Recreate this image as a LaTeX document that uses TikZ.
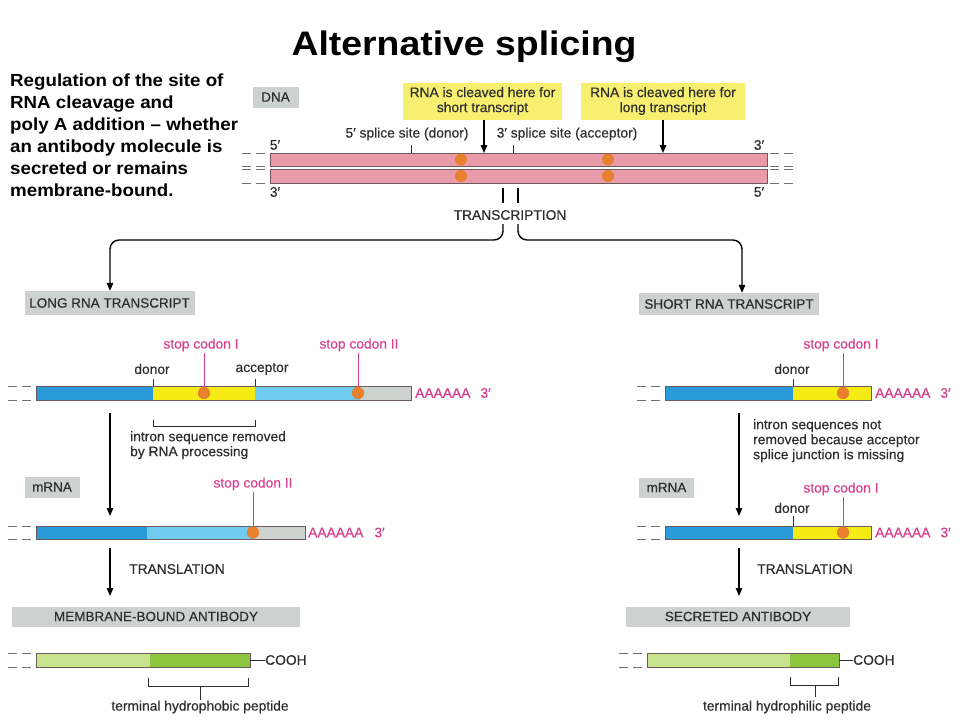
\documentclass[tikz,border=0pt]{standalone}
\usepackage{fontspec}
\setmainfont{Liberation Sans}
\newfontfamily\parafont[FakeStretch=1.07]{Liberation Sans}
\newfontfamily\titlefont[FakeStretch=1.1]{Liberation Sans}
\newfontfamily\lblfont[FakeBold=0.4]{Liberation Sans}
\usetikzlibrary{arrows.meta}
\definecolor{txt}{HTML}{2E2E2E}
\definecolor{pinktxt}{HTML}{D6418F}
\definecolor{strand}{HTML}{E99BAA}
\definecolor{strandln}{HTML}{6B5A5E}
\definecolor{dotc}{HTML}{E8812E}
\definecolor{ybox}{HTML}{F7EF70}
\definecolor{gbox}{HTML}{CDD2D1}
\definecolor{blueA}{HTML}{2B9AD8}
\definecolor{blueB}{HTML}{70CBEE}
\definecolor{yelbar}{HTML}{F6EB14}
\definecolor{graybar}{HTML}{CCD3CF}
\definecolor{greenA}{HTML}{C9E38F}
\definecolor{greenB}{HTML}{8CC63F}
\definecolor{dashc}{HTML}{707070}
\begin{document}
\begin{tikzpicture}[x=1pt,y=-1pt,
  lbl/.style={font=\lblfont\fontsize{13.8}{15}\selectfont, text=txt, inner sep=0pt},
  plbl/.style={lbl, text=pinktxt},
  gboxs/.style={fill=gbox, font=\lblfont\fontsize{13.5}{15}\selectfont, text=txt, inner sep=0pt},
  ybx/.style={fill=ybox, font=\lblfont\fontsize{13.8}{15}\selectfont, text=txt, inner sep=0pt, align=center},
  arr/.style={line width=1.4pt, -{Triangle[length=8pt,width=6.5pt]}},
  barln/.style={draw=strandln, line width=0.7pt},
  dsh/.style={dashc, line width=1pt, dash pattern=on 9pt off 5pt},
  dotn/.style={circle, fill=dotc, minimum size=12pt, inner sep=0pt},
  tick/.style={line width=0.8pt, txt},
  ptick/.style={line width=0.9pt, pinktxt}]
\fill[white] (0,0) rectangle (960,720);
\useasboundingbox (0,0) rectangle (960,720);

% title
\node[anchor=base, font=\titlefont\bfseries\fontsize{34}{40}\selectfont, inner sep=0] (title) at (464,55) {Alternative splicing};

% paragraph
\node[anchor=north west, align=left, font=\parafont\bfseries\fontsize{17.5}{22}\selectfont, inner sep=0] (para) at (10,74)
 {Regulation of the site of\\RNA cleavage and\\poly A addition – whether\\an antibody molecule is\\secreted or remains\\membrane-bound.};

% ---------------- DNA ----------------
\node[gboxs, minimum width=46pt, minimum height=21pt] (dna) at (275.5,97) {DNA};
\node[ybx, minimum width=159pt, minimum height=37pt] (yb1) at (482.5,101) {RNA is cleaved here for\\short transcript};
\node[ybx, minimum width=164pt, minimum height=37pt] (yb2) at (663,101) {RNA is cleaved here for\\long transcript};

\fill[strand] (270,153) rectangle (767,166);
\fill[strand] (270,169) rectangle (767,183);
\draw[barln] (270,153) rectangle (767,166);
\draw[barln] (270,169) rectangle (767,183);
\foreach \yy in {153,166,169,183} {
  \draw[dsh] (242,\yy) -- (267,\yy);
  \draw[dsh] (770,\yy) -- (795,\yy);
}
\node[dotn] (dn1) at (461,159.5) {};
\node[dotn] (dn2) at (461,176) {};
\node[dotn] (dn3) at (608,159.5) {};
\node[dotn] (dn4) at (608,176) {};

\node[lbl] (l5a) at (275,145) {5′};
\node[lbl] (l3a) at (759,145) {3′};
\node[lbl] (l3b) at (275,192) {3′};
\node[lbl] (l5b) at (759,192) {5′};

\node[lbl] (ss5) at (407,134) {5′ splice site (donor)};
\node[lbl] (ss3) at (567,134) {3′ splice site (acceptor)};
\draw[tick] (411,145) -- (411,153);
\draw[tick] (513,145) -- (513,153);

\coordinate (c1) at (484,153);
\coordinate (c2) at (663,153);
\draw[arr] (yb1.south -| c1) -- (c1);
\draw[arr] (yb2.south -| c2) -- (c2);

% transcription
\node[lbl] (trans) at (510,215) {TRANSCRIPTION};
\draw[line width=1.2pt] (503,188) -- (503,203);
\draw[line width=1.2pt] (518,188) -- (518,203);

\node[gboxs, minimum width=170pt, minimum height=24pt] (longt) at (109.5,303) {LONG RNA TRANSCRIPT};
\node[gboxs, minimum width=180pt, minimum height=22pt] (shortt) at (729,304) {SHORT RNA TRANSCRIPT};

\coordinate (bl) at (503,224);
\coordinate (br) at (518,224);
\draw[arr, rounded corners=9pt] (bl) |- (110,240) -- (longt.north -| 110,0);
\draw[arr, rounded corners=9pt] (br) |- (742,240) -- (shortt.north -| 742,0);

% ---------------- left: long transcript ----------------
\fill[blueA] (36,386) rectangle (153,400);
\fill[yelbar] (153,386) rectangle (255,400);
\fill[blueB] (255,386) rectangle (360,400);
\fill[graybar] (360,386) rectangle (411,400);
\draw[barln] (36,386) rectangle (411,400);
\draw[dsh] (8,386) -- (33,386);
\draw[dsh] (8,400) -- (33,400);

\node[plbl] (sc1) at (201,345) {stop codon I};
\node[plbl] (sc2) at (359,345) {stop codon II};
\node[lbl] (don1) at (152,369) {donor};
\node[lbl] (acc1) at (262,369) {acceptor};
\draw[tick] (153,379) -- (153,386);
\draw[tick] (255,379) -- (255,386);
\node[dotn] (d1) at (204,393) {};
\node[dotn] (d2) at (358,393) {};
\draw[ptick] (sc1.south -| d1) ++(0,1) -- (d1.center);
\draw[ptick] (sc2.south -| d2) ++(0,1) -- (d2.center);
\node[dotn] at (204,393) {};
\node[dotn] at (358,393) {};
\node[plbl, anchor=west] (pa1) at (415,393) {AAAAAA\hspace{10pt}3′};

\draw[tick] (153,420) -- (153,426) -- (255,426) -- (255,420);
\node[lbl, anchor=north west, align=left] (intron1) at (130,431) {intron sequence removed\\by RNA processing};

\coordinate (a1s) at (110,413);
\coordinate (a1e) at (110,516);
\draw[arr] (a1s) -- (a1e);

\node[gboxs, minimum width=55pt, minimum height=21pt] (mrna1) at (52,487) {mRNA};
\node[plbl] (sc3) at (253,484) {stop codon II};

\fill[blueA] (36,526) rectangle (147,539);
\fill[blueB] (147,526) rectangle (253,539);
\fill[graybar] (253,526) rectangle (305,539);
\draw[barln] (36,526) rectangle (305,539);
\draw[dsh] (8,526) -- (33,526);
\draw[dsh] (8,539) -- (33,539);
\node[dotn] (d3) at (253,532.5) {};
\draw[ptick] (sc3.south) ++(0,1) -- (d3.center);
\node[dotn] at (253,532.5) {};
\node[plbl, anchor=west] (pa2) at (308,532.5) {AAAAAA\hspace{11pt}3′};

\coordinate (a2s) at (110,548);
\coordinate (a2e) at (110,596);
\draw[arr] (a2s) -- (a2e);
\node[lbl] (tl1) at (177,569) {TRANSLATION};

\node[gboxs, minimum width=288pt, minimum height=20pt] (mba) at (156,616.5) {MEMBRANE-BOUND ANTIBODY};

\fill[greenA] (36,653) rectangle (150,667);
\fill[greenB] (150,653) rectangle (250,667);
\draw[barln] (36,653) rectangle (250,667);
\draw[dsh] (8,653) -- (33,653);
\draw[dsh] (8,667) -- (33,667);
\node[lbl, anchor=west] (cooh1) at (265,660) {COOH};
\draw[tick] (250,660) -- (cooh1.west);
\draw[tick] (148,678) -- (148,686) -- (248,686) -- (248,678);
\node[lbl] (thp) at (200,707) {terminal hydrophobic peptide};
\draw[tick] (200,686) -- (thp.north);

% ---------------- right: short transcript ----------------
\fill[blueA] (665,386) rectangle (793,400);
\fill[yelbar] (793,386) rectangle (871,400);
\draw[barln] (665,386) rectangle (871,400);
\draw[dsh] (637,386) -- (662,386);
\draw[dsh] (637,400) -- (662,400);
\node[plbl] (sc4) at (841,345) {stop codon I};
\node[lbl] (don2) at (792,369) {donor};
\draw[tick] (793,379) -- (793,386);
\node[dotn] (d4) at (843,393) {};
\draw[ptick] (sc4.south -| d4) ++(0,1) -- (d4.center);
\node[dotn] at (843,393) {};
\node[plbl, anchor=west] (pa3) at (875,393) {AAAAAA\hspace{10pt}3′};

\node[lbl, anchor=north west, align=left] (intron2) at (753,419) {intron sequences not\\removed because acceptor\\splice junction is missing};

\coordinate (a3s) at (739,413);
\coordinate (a3e) at (739,516);
\draw[arr] (a3s) -- (a3e);

\node[gboxs, minimum width=55pt, minimum height=20pt] (mrna2) at (666.5,487.5) {mRNA};
\node[plbl] (sc5) at (841,489) {stop codon I};
\node[lbl] (don3) at (792,508) {donor};

\fill[blueA] (665,526) rectangle (793,539);
\fill[yelbar] (793,526) rectangle (871,539);
\draw[barln] (665,526) rectangle (871,539);
\draw[dsh] (637,526) -- (662,526);
\draw[dsh] (637,539) -- (662,539);
\draw[tick] (793,516) -- (793,526);
\node[dotn] (d5) at (843,532.5) {};
\draw[ptick] (sc5.south -| d5) ++(0,1) -- (d5.center);
\node[dotn] at (843,532.5) {};
\node[plbl, anchor=west] (pa4) at (875,532.5) {AAAAAA\hspace{10pt}3′};

\coordinate (a4s) at (739,548);
\coordinate (a4e) at (739,596);
\draw[arr] (a4s) -- (a4e);
\node[lbl] (tl2) at (805,569) {TRANSLATION};

\node[gboxs, minimum width=224pt, minimum height=20pt] (sca) at (738,616.5) {SECRETED ANTIBODY};

\fill[greenA] (647,653) rectangle (790,667);
\fill[greenB] (790,653) rectangle (839,667);
\draw[barln] (647,653) rectangle (839,667);
\draw[dsh] (619,653) -- (644,653);
\draw[dsh] (619,667) -- (644,667);
\node[lbl, anchor=west] (cooh2) at (853,660) {COOH};
\draw[tick] (839,660) -- (cooh2.west);
\draw[tick] (790,677) -- (790,685) -- (838,685) -- (838,677);
\node[lbl] (thl) at (787,707) {terminal hydrophilic peptide};
\draw[tick] (815,685) -- (815,697);
\end{tikzpicture}
\end{document}
